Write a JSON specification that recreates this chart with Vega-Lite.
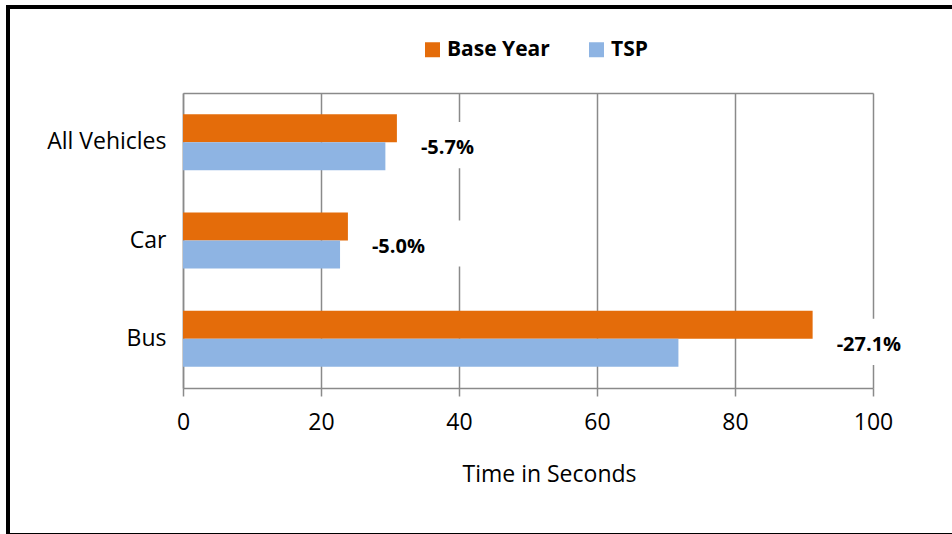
{
  "$schema": "https://vega.github.io/schema/vega-lite/v6.json",
  "width": 948,
  "height": 528,
  "autosize": {"type": "none"},
  "padding": {"left": 8, "top": 7, "right": -4, "bottom": -1},
  "background": "white",
  "config": {
    "font": "Open Sans",
    "view": {"stroke": "black", "strokeWidth": 4, "fill": "white"},
    "axis": {
      "domainColor": "#8a8a8a",
      "domainWidth": 1.5,
      "tickColor": "#8a8a8a",
      "tickWidth": 1.5,
      "gridColor": "#8a8a8a",
      "gridWidth": 1.5,
      "labelColor": "black",
      "labelFont": "Open Sans",
      "labelFontSize": 23,
      "titleColor": "black",
      "titleFont": "Open Sans",
      "titleFontSize": 23,
      "titleFontWeight": "normal"
    },
    "legend": {
      "orient": "none",
      "legendX": 414,
      "legendY": 32,
      "direction": "horizontal",
      "symbolType": "square",
      "symbolSize": 225,
      "symbolStrokeWidth": 0,
      "labelFont": "Open Sans",
      "labelFontSize": 21,
      "labelFontWeight": "bold",
      "labelColor": "black",
      "labelOffset": 4,
      "columnPadding": 36
    }
  },
  "data": {
    "values": [
      {"Vehicle": "All Vehicles", "Series": "Base Year", "Seconds": 31.0, "Change": "-5.7%"},
      {"Vehicle": "All Vehicles", "Series": "TSP", "Seconds": 29.33},
      {"Vehicle": "Car", "Series": "Base Year", "Seconds": 23.9, "Change": "-5.0%"},
      {"Vehicle": "Car", "Series": "TSP", "Seconds": 22.76},
      {"Vehicle": "Bus", "Series": "Base Year", "Seconds": 91.25, "Change": "-27.1%"},
      {"Vehicle": "Bus", "Series": "TSP", "Seconds": 71.8}
    ]
  },
  "encoding": {
    "y": {
      "field": "Vehicle",
      "type": "nominal",
      "sort": ["All Vehicles", "Car", "Bus"],
      "scale": {"range": [86, 381], "paddingInner": 0.43, "paddingOuter": 0.215},
      "axis": {
        "title": null,
        "offset": -175,
        "ticks": false,
        "tickSize": 0,
        "labelPadding": 17,
        "grid": false
      }
    }
  },
  "layer": [
    {
      "mark": {"type": "bar"},
      "encoding": {
        "x": {
          "field": "Seconds",
          "type": "quantitative",
          "scale": {"domain": [0, 100], "range": [175, 865], "nice": false, "zero": true},
          "axis": {
            "orient": "bottom",
            "offset": -147,
            "values": [0, 20, 40, 60, 80, 100],
            "grid": false,
            "tickSize": 8,
            "labelPadding": 15,
            "labelFlush": false,
            "title": "Time in Seconds",
            "titleX": 541,
            "titleY": 75,
            "titleBaseline": "top",
            "titleAnchor": "middle",
            "titleAlign": "center"
          }
        },
        "yOffset": {
          "field": "Series",
          "type": "nominal",
          "sort": ["Base Year", "TSP"],
          "scale": {"paddingInner": 0, "paddingOuter": 0}
        },
        "color": {
          "field": "Series",
          "type": "nominal",
          "sort": ["Base Year", "TSP"],
          "scale": {"domain": ["Base Year", "TSP"], "range": ["#E46C0A", "#8EB4E3"]},
          "legend": {"title": null}
        }
      }
    },
    {
      "transform": [{"filter": "datum.Series === 'Base Year'"}],
      "mark": {
        "type": "point",
        "shape": "M-1,-0.42H1V0.42H-1Z",
        "size": 12100,
        "filled": true,
        "fill": "white",
        "opacity": 1,
        "strokeOpacity": 0,
        "xOffset": 60,
        "yOffset": 3
      },
      "encoding": {
        "x": {"field": "Seconds", "type": "quantitative", "axis": null}
      }
    },
    {
      "transform": [{"filter": "datum.Series === 'Base Year'"}],
      "mark": {
        "type": "text",
        "align": "left",
        "baseline": "middle",
        "dx": 24,
        "dy": 6,
        "font": "Open Sans",
        "fontSize": 20,
        "fontWeight": "bold",
        "color": "black"
      },
      "encoding": {
        "x": {
          "field": "Seconds",
          "type": "quantitative",
          "axis": {
            "orient": "top",
            "offset": -86,
            "values": [0, 20, 40, 60, 80, 100],
            "domain": true,
            "ticks": false,
            "labels": false,
            "grid": true,
            "title": null
          }
        },
        "text": {"field": "Change"}
      }
    }
  ],
  "resolve": {"axis": {"x": "independent"}}
}
